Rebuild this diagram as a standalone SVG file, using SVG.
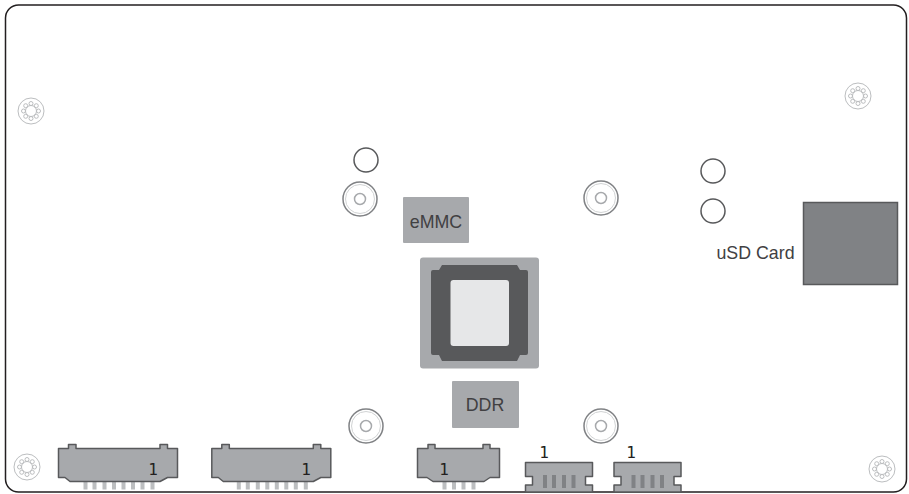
<svg xmlns="http://www.w3.org/2000/svg" width="909" height="494" viewBox="0 0 909 494">
<style>
.lbl{font-family:"Liberation Sans",Arial,sans-serif;font-size:17.800px;fill:#414042;text-anchor:middle}
.one{font-family:"DejaVu Sans Mono",monospace;font-size:16px;fill:#231f20;text-anchor:middle}
.conn{fill:#a7a9ac;stroke:#58595b;stroke-width:1.5;stroke-linejoin:round}
.pin{fill:#bcbec0}
.pin2{fill:#808285}
.plain{fill:#fff;stroke:#58595b;stroke-width:1.5}
.ro{fill:none;stroke:#bcbec0;stroke-width:1}
</style>
<defs>
<g id="mount">
<circle class="ro" r="13"/>
<circle class="ro" r="5.500"/>
<circle class="ro" cx="0" cy="-7.500" r="2"/><circle class="ro" cx="5.300" cy="-5.300" r="2"/><circle class="ro" cx="7.500" cy="0" r="2"/><circle class="ro" cx="5.300" cy="5.300" r="2"/><circle class="ro" cx="0" cy="7.500" r="2"/><circle class="ro" cx="-5.300" cy="5.300" r="2"/><circle class="ro" cx="-7.500" cy="0" r="2"/><circle class="ro" cx="-5.300" cy="-5.300" r="2"/>
</g>
<g id="stud">
<circle r="17" fill="#fff" stroke="#808285" stroke-width="1.500"/>
<circle r="14.500" fill="none" stroke="#d1d3d4" stroke-width="1"/>
<circle r="5.500" fill="none" stroke="#a7a9ac" stroke-width="1.500"/>
</g>
<g id="wide">
<path class="pin" d="M83.500 482h4v7.500h-4zM92.500 482h4v7.500h-4zM102.500 482h4v7.500h-4zM112 482h4v7.500h-4zM121.500 482h4v7.500h-4zM131 482h4v7.500h-4zM140.500 482h4v7.500h-4zM150.500 482h4v7.500h-4z"/>
<path class="conn" d="M58.500 448.500H68.500V444.500H76V448.500H160V444.500H167.500V448.500H177.500V477.500H167.500L160 481.500H76L70 481.500L65 477.500H58.500Z"/>
</g>
<g id="small">
<path class="conn" d="M525.500 462.500H592.500V476.500H585.500V485H592.500V492H525.500V485H532.500V476.500H525.500Z"/>
<path class="pin2" d="M543 475h4v13h-4zM552 475h4v13h-4zM562 475h4v13h-4zM571.500 475h4v13h-4z"/>
</g>
</defs>
<rect width="909" height="494" fill="#fff"/>
<g id="board"><rect x="5.500" y="5" width="901" height="487" rx="13" fill="#fff" stroke="#231f20" stroke-width="1.500"/></g>
<g id="connectors"></g>
<g id="mount-tl"><use href="#mount" x="31" y="111"/></g>
<g id="mount-tr"><use href="#mount" x="858" y="96"/></g>
<g id="mount-bl"><use href="#mount" x="27" y="467"/></g>
<g id="mount-br"><use href="#mount" x="882" y="469"/></g>
<g id="pad-1"><circle class="plain" cx="366" cy="160" r="12"/></g>
<g id="pad-2"><circle class="plain" cx="713" cy="171" r="12"/></g>
<g id="pad-3"><circle class="plain" cx="713" cy="211" r="12"/></g>
<g id="stud-1"><use href="#stud" x="360" y="199"/></g>
<g id="stud-2"><use href="#stud" x="601" y="198"/></g>
<g id="stud-3"><use href="#stud" x="366" y="426"/></g>
<g id="stud-4"><use href="#stud" x="601" y="426"/></g>
<g id="emmc"><rect x="403" y="197" width="66" height="46" rx="1" fill="#a7a9ac"/><text class="lbl" x="436" y="228">eMMC</text></g>
<g id="ddr"><rect x="452" y="381" width="67" height="47" rx="1" fill="#a7a9ac"/><text class="lbl" x="485" y="411">DDR</text></g>
<g id="soc">
<rect x="420" y="257.500" width="119" height="111" rx="3" fill="#a7a9ac"/>
<path d="M442 265H517L520 270H526Q528 270 528 272V353Q528 355 526 355H520L517 361H442L439 355H433Q431 355 431 353V272Q431 270 433 270H439Z" fill="#58595b"/>
<rect x="450.500" y="280" width="58.500" height="66" rx="3" fill="#e6e7e8"/>
</g>
<g id="usd"><rect x="803.500" y="202.500" width="94" height="82" fill="#808285" stroke="#58595b" stroke-width="1.500"/><text class="lbl" x="755.500" y="259">uSD Card</text></g>
<g id="j1"><use href="#wide"/><text class="one" x="153" y="475">1</text></g>
<g id="j2"><use href="#wide" x="153.300"/><text class="one" x="306" y="475">1</text></g>
<g id="j3">
<path class="pin" d="M442.500 482h4v7.500h-4zM452 482h4v7.500h-4zM461.500 482h4v7.500h-4zM471.500 482h4v7.500h-4z"/>
<path class="conn" d="M417.500 448.500H428V444.500H435V448.500H483V444.500H490V448.500H499.500V477.500H490L484 481.500H433L427 477.500H417.500Z"/>
<text class="one" x="444" y="475">1</text>
</g>
<g id="j4"><use href="#small"/><text class="one" x="544" y="458">1</text></g>
<g id="j5"><use href="#small" x="88.500"/><text class="one" x="631" y="458">1</text></g>
</svg>
